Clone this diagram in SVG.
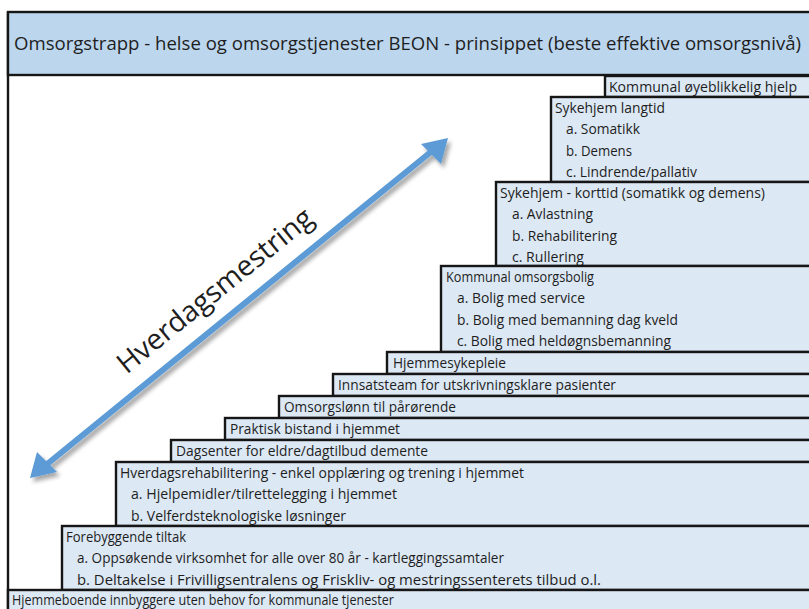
<svg xmlns="http://www.w3.org/2000/svg" width="809" height="609" viewBox="0 0 809 609">
<style>
  .box { fill: #dce8f4; stroke: #161616; stroke-width: 2.4; }
  .title { fill: #bcd6ee; stroke: #161616; stroke-width: 2.4; }
  text { font-family: "Open Sans", "Noto Sans", "Liberation Sans", sans-serif; fill: #1e1e1e; }
  .t { font-size: 14px; }
  .h { font-size: 18.5px; }
  .arrowlbl { font-size: 28.5px; }
</style>
<defs>
  <filter id="shadow" x="-20%" y="-20%" width="140%" height="140%">
    <feGaussianBlur in="SourceAlpha" stdDeviation="2"/>
    <feOffset dx="3" dy="4" result="b"/>
    <feComponentTransfer><feFuncA type="linear" slope="0.35"/></feComponentTransfer>
    <feMerge><feMergeNode/><feMergeNode in="SourceGraphic"/></feMerge>
  </filter>
</defs>
<rect x="0" y="0" width="809" height="609" fill="#ffffff"/>
<line x1="8" y1="12" x2="8" y2="612" stroke="#161616" stroke-width="2.4"/>

<g id="title">
  <rect class="title" x="8" y="12" width="812" height="63"/>
  <text class="h" x="14" y="50" textLength="787" lengthAdjust="spacingAndGlyphs">Omsorgstrapp - helse og omsorgstjenester BEON - prinsippet (beste effektive omsorgsnivå)</text>
</g>

<g id="n-oyeblikkelig">
  <rect class="box" x="605" y="76" width="215" height="21"/>
  <text class="t" x="609" y="92" textLength="188" lengthAdjust="spacingAndGlyphs">Kommunal øyeblikkelig hjelp</text>
</g>

<g id="n-langtid">
  <rect class="box" x="551" y="97" width="270" height="85"/>
  <text class="t" x="555" y="113" textLength="110" lengthAdjust="spacingAndGlyphs">Sykehjem langtid</text>
  <text class="t" x="566" y="134.3" textLength="74" lengthAdjust="spacingAndGlyphs">a. Somatikk</text>
  <text class="t" x="566" y="155.6" textLength="66" lengthAdjust="spacingAndGlyphs">b. Demens</text>
  <text class="t" x="566" y="176.9" textLength="131" lengthAdjust="spacingAndGlyphs">c. Lindrende/pallativ</text>
</g>

<g id="n-korttid">
  <rect class="box" x="496" y="182" width="325" height="84"/>
  <text class="t" x="500" y="198" textLength="265" lengthAdjust="spacingAndGlyphs">Sykehjem - korttid (somatikk og demens)</text>
  <text class="t" x="512" y="219.3" textLength="81" lengthAdjust="spacingAndGlyphs">a. Avlastning</text>
  <text class="t" x="512" y="240.6" textLength="105" lengthAdjust="spacingAndGlyphs">b. Rehabilitering</text>
  <text class="t" x="512" y="261.9" textLength="72" lengthAdjust="spacingAndGlyphs">c. Rullering</text>
</g>

<g id="n-omsorgsbolig">
  <rect class="box" x="441" y="266" width="380" height="86"/>
  <text class="t" x="446" y="282" textLength="148" lengthAdjust="spacingAndGlyphs">Kommunal omsorgsbolig</text>
  <text class="t" x="457" y="303.3" textLength="128" lengthAdjust="spacingAndGlyphs">a. Bolig med service</text>
  <text class="t" x="457" y="324.6" textLength="221" lengthAdjust="spacingAndGlyphs">b. Bolig med bemanning dag kveld</text>
  <text class="t" x="457" y="345.9" textLength="214" lengthAdjust="spacingAndGlyphs">c. Bolig med heldøgnsbemanning</text>
</g>

<g id="n-hjemmesykepleie">
  <rect class="box" x="387" y="352" width="434" height="22"/>
  <text class="t" x="393" y="368" textLength="113" lengthAdjust="spacingAndGlyphs">Hjemmesykepleie</text>
</g>

<g id="n-innsatsteam">
  <rect class="box" x="333" y="374" width="488" height="22"/>
  <text class="t" x="338" y="390" textLength="278" lengthAdjust="spacingAndGlyphs">Innsatsteam for utskrivningsklare pasienter</text>
</g>

<g id="n-omsorgslonn">
  <rect class="box" x="279" y="396" width="542" height="22"/>
  <text class="t" x="284" y="412" textLength="172" lengthAdjust="spacingAndGlyphs">Omsorgslønn til pårørende</text>
</g>

<g id="n-praktisk">
  <rect class="box" x="225" y="418" width="596" height="22"/>
  <text class="t" x="230" y="434" textLength="170" lengthAdjust="spacingAndGlyphs">Praktisk bistand i hjemmet</text>
</g>

<g id="n-dagsenter">
  <rect class="box" x="171" y="440" width="650" height="22"/>
  <text class="t" x="176" y="456" textLength="252" lengthAdjust="spacingAndGlyphs">Dagsenter for eldre/dagtilbud demente</text>
</g>

<g id="n-hverdagsrehab">
  <rect class="box" x="116" y="462" width="705" height="64"/>
  <text class="t" x="120" y="478" textLength="404" lengthAdjust="spacingAndGlyphs">Hverdagsrehabilitering - enkel opplæring og trening i hjemmet</text>
  <text class="t" x="131" y="499.3" textLength="266" lengthAdjust="spacingAndGlyphs">a. Hjelpemidler/tilrettelegging i hjemmet</text>
  <text class="t" x="131" y="520.6" textLength="215" lengthAdjust="spacingAndGlyphs">b. Velferdsteknologiske løsninger</text>
</g>

<g id="n-forebyggende">
  <rect class="box" x="62" y="526" width="759" height="64"/>
  <text class="t" x="66" y="542" textLength="120" lengthAdjust="spacingAndGlyphs">Forebyggende tiltak</text>
  <text class="t" x="77" y="563.3" textLength="427" lengthAdjust="spacingAndGlyphs">a. Oppsøkende virksomhet for alle over 80 år - kartleggingssamtaler</text>
  <text class="t" x="77" y="584.6" textLength="524" lengthAdjust="spacingAndGlyphs">b. Deltakelse i Frivilligsentralens og Friskliv- og mestringssenterets tilbud o.l.</text>
</g>

<g id="n-hjemmeboende">
  <rect class="box" x="8" y="590" width="813" height="30"/>
  <text class="t" x="12" y="605" textLength="382" lengthAdjust="spacingAndGlyphs">Hjemmeboende innbyggere uten behov for kommunale tjenester</text>
</g>

<g id="connectors">
  <g id="arrow-hverdagsmestring" filter="url(#shadow)">
    <line x1="46" y1="465" x2="432" y2="151" stroke="#5b9bd5" stroke-width="6"/>
    <polygon points="448,138 421,144 441,164" fill="#5b9bd5"/>
    <polygon points="30,478 57,472 37,452" fill="#5b9bd5"/>
  </g>
  <text class="arrowlbl" transform="translate(221,298) rotate(-39.1)" text-anchor="middle">Hverdagsmestring</text>
</g>
</svg>
